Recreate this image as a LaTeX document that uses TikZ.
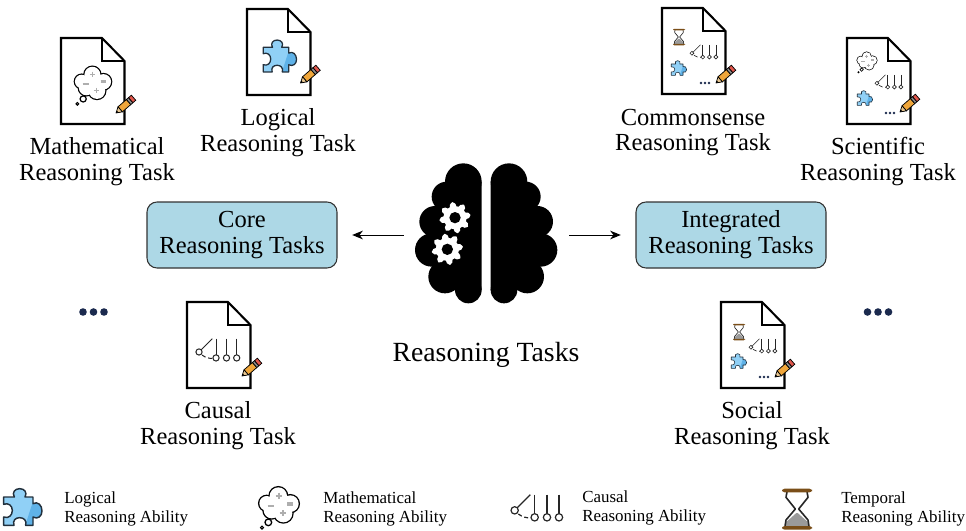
\documentclass[tikz,border=0pt]{standalone}
\usepackage{fontspec}
\setmainfont{Liberation Serif}
\usetikzlibrary{arrows.meta}
\definecolor{boxblue}{HTML}{ADD8E6}
\definecolor{puzlight}{HTML}{90D0F6}
\definecolor{puzdark}{HTML}{5FB2E8}
\definecolor{puzline}{HTML}{22303C}
\definecolor{navydot}{HTML}{1B2A4E}
\definecolor{glassbrown}{HTML}{7A4E18}
\definecolor{sandgray}{HTML}{9A9A9A}
\definecolor{penyellow}{HTML}{F0A63A}
\definecolor{penred}{HTML}{E2574C}
\definecolor{pengray}{HTML}{8C8C8C}
\definecolor{penwood}{HTML}{E8C690}
\tikzset{
  tasklabel/.style={align=center,inner sep=0pt,font=\fontsize{18.4}{19.4}\selectfont},
  biglabel/.style={inner sep=0pt,font=\fontsize{20.8}{24}\selectfont},
  legendlabel/.style={align=left,anchor=west,inner sep=0pt,font=\fontsize{12.7}{14.3}\selectfont},
  groupbox/.style={draw=black!80,line width=0.8pt,fill=boxblue,rounded corners=7.5pt,align=center,
    minimum width=142.5pt,minimum height=49.5pt,inner sep=0pt,font=\fontsize{18.4}{19.4}\selectfont},
  flowarrow/.style={-{Stealth[length=8pt,width=6.5pt,inset=2.5pt]},line width=0.75pt,shorten >=11pt},
  hiddenbrain/.style={minimum width=123.75pt,minimum height=105pt,inner sep=0pt}
}
% x y scale : puzzle, 1 = 38 px
\newcommand{\puzzleicon}[3]{%
\begin{scope}[shift={(#1,#2)},scale=#3/3]
  \def\puzpath{(-58,55) -- (-58,30) .. controls (-42,36) and (-32,24) .. (-32,10) .. controls (-32,-4) and (-44,-14) .. (-58,-8) -- (-58,-30) -- (-26,-30) .. controls (-34,-44) and (-24,-55) .. (-10,-55) .. controls (4,-55) and (14,-44) .. (6,-30) -- (30,-30) -- (30,-10) .. controls (44,-18) and (57,-6) .. (57,12) .. controls (57,28) and (44,38) .. (30,30) -- (30,55) -- (8,55) .. controls (12,40) and (2,32) .. (-10,32) .. controls (-22,32) and (-32,40) .. (-27,55) -- cycle}
  \fill[puzlight] \puzpath;
  \begin{scope}
    \clip \puzpath;
    \fill[puzdark] (36,-35) -- (70,-35) -- (70,60) -- (5,60) -- cycle;
  \end{scope}
  \draw[puzline,line width=#3*1.1pt,line join=round] \puzpath;
\end{scope}}
% cloud, 1 = 40 px
\newcommand{\cloudicon}[3]{%
\begin{scope}[shift={(#1,#2)},scale=#3/3]
  \foreach \cx/\cy/\cr in {-2/-27/26,34/-4/25,13/25/27,-22/16/24,-37/-5/22}
    \draw[black,fill=white,line width=#3*2pt] (\cx,\cy) circle[radius=\cr];
  \foreach \cx/\cy/\cr in {-2/-27/26,34/-4/25,13/25/27,-22/16/24,-37/-5/22,0/0/28}
    \fill[white] (\cx,\cy) circle[radius=\cr];
  \draw[sandgray!80,line width=#3*1.3pt] (-10,-28)--(8,-28) (-1,-37)--(-1,-19) (2,25)--(20,25) (11,16)--(11,34) (-34,3)--(-14,3) (25,-7)--(42,-7) (25,-1)--(42,-1);
  \draw[black,fill=white,line width=#3*1pt] (-32,52) circle[radius=10];
  \draw[black,fill=white,line width=#3*0.8pt] (-51,68) circle[radius=4.5];
\end{scope}}
% cradle, 1 = 53 px
\newcommand{\cradleicon}[3]{%
\begin{scope}[shift={(#1,#2)},scale=#3/3]
  \foreach \sx in {-7,30,66} {
    \draw[black!85,line width=#3*0.9pt] (\sx,-40) -- (\sx,17);
    \draw[black!85,fill=white,line width=#3*0.9pt] (\sx,28) circle[radius=11];
  }
  \draw[black!85,line width=#3*0.9pt] (-20,-40) -- (-60,-0);
  \draw[black!85,fill=white,line width=#3*0.9pt] (-67,7) circle[radius=11];
  \draw[black!85,densely dashed,line width=#3*0.9pt] (-56,18) .. controls (-44,27) and (-32,30) .. (-18,30);
\end{scope}}
% hourglass, 1 = 42 px high
\newcommand{\glassicon}[3]{%
\begin{scope}[shift={(#1,#2)},scale=#3/3]
  \fill[sandgray] (-2,12) -- (-22,30) -- (-34,40) -- (-36,52) -- (36,52) -- (34,40) -- (22,30) -- (2,12) -- cycle;
  \draw[black!85,line width=#3*1.2pt,line join=round] (-30,-52) -- (-33,-35) -- (-5,0) -- (-33,33) -- (-36,52) (30,-52) -- (33,-35) -- (5,0) -- (33,33) -- (36,52);
  \fill[glassbrown,rounded corners=#3*2pt] (-45,-61) rectangle (45,-50);
  \fill[glassbrown,rounded corners=#3*2pt] (-45,51) rectangle (45,62);
\end{scope}}
\newcommand{\moredots}[3]{%
\foreach \dd in {-1,0,1}
  \fill[navydot] ({#1+\dd*#3*10.5},#2) circle[radius=#3*3.8];}
% tip x y
\newcommand{\pencilicon}[2]{%
\begin{scope}[shift={(#1,#2)},rotate=41,scale=0.93]
  \draw[black,fill=penyellow,line width=0.55pt] (6,-3.6) -- (18,-3.6) -- (18,3.6) -- (6,3.6) -- cycle;
  \draw[black,fill=penwood,line width=0.55pt,line join=round] (0,0) -- (6,-3.6) -- (6,3.6) -- cycle;
  \fill[black] (0,0) -- (2.4,-1.4) -- (2.4,1.4) -- cycle;
  \draw[black,fill=pengray,line width=0.55pt] (18,-3.6) rectangle (21,3.6);
  \draw[black,fill=penred,line width=0.55pt] (21,-3.6) rectangle (25,3.6);
\end{scope}}
\newcommand{\docicon}[2]{%
\begin{scope}[shift={(#1,#2)}]
  \draw[black,fill=white,line width=1.55pt,line join=miter] (0,0) -- (41,0) -- (63.5,23) -- (63.5,86) -- (0,86) -- cycle;
  \draw[black,line width=1.55pt,line join=miter] (41,0) -- (41,23) -- (63.5,23);
\end{scope}}
\newcommand{\gearicon}[2]{%
\begin{scope}[shift={(#1,#2)}]
  \fill[white] (0,0) circle[radius=35];
  \foreach \ga in {10,55,100,145,190,235,280,325}
    \fill[white,rotate=\ga,rounded corners=1.5pt] (-11,28) -- (-7,47) -- (7,47) -- (11,28) -- cycle;
  \fill[black] (0,0) circle[radius=17];
\end{scope}}
\newcommand{\halfbrain}{%
  \fill[black] (190,95) -- (245,95) -- (245,420) -- (205,420) -- (135,380) -- (95,300) -- (105,215) -- (140,140) -- cycle;
  \foreach \cx/\cy/\cr in {190/95/55,140/140/45,105/215/47,95/300/50,135/380/50,205/420/40}
    \fill[black] (\cx,\cy) circle[radius=\cr];}
\begin{document}
\begin{tikzpicture}[x=0.75pt,y=-0.75pt]
\useasboundingbox (0,0) rectangle (966,531);
% brain
\begin{scope}[shift={(400,150)},scale=1/3]
  \halfbrain
  \begin{scope}[shift={(517,0)},xscale=-1]
    \halfbrain
  \end{scope}
  \gearicon{165}{203}
  \gearicon{142}{298}
\end{scope}
\node[hiddenbrain] (brain) at (486.5,235) {};
\node[groupbox] (core) at (242,235) {Core\\Reasoning Tasks};
\node[groupbox] (integrated) at (731,235) {Integrated\\Reasoning Tasks};
\draw[flowarrow] (brain) -- (core);
\draw[flowarrow] (brain) -- (integrated);
\node[biglabel] (tasks) at (486,355) {Reasoning Tasks};
% documents
\docicon{61}{38}
\cloudicon{93}{83}{0.92}
\pencilicon{116}{113}
\docicon{247}{9}
\puzzleicon{280}{56}{0.87}
\pencilicon{300.5}{83}
\docicon{662}{8}
\glassicon{679}{37}{0.4}
\cradleicon{704}{52}{0.54}
\puzzleicon{679}{68}{0.4}
\moredots{705}{83}{0.38}
\pencilicon{716}{83}
\docicon{847}{38}
\cloudicon{867}{61}{0.5}
\cradleicon{889}{82}{0.54}
\puzzleicon{865}{98}{0.4}
\moredots{890}{113}{0.38}
\pencilicon{900}{112}
\docicon{187}{302}
\cradleicon{218}{350}{0.85}
\pencilicon{242}{376}
\docicon{721}{302}
\glassicon{739}{332}{0.4}
\cradleicon{763}{346}{0.54}
\puzzleicon{739}{361}{0.4}
\moredots{764}{377}{0.38}
\pencilicon{775}{377}
% task labels
\node[tasklabel] (math) at (97,161.5) {Mathematical\\Reasoning Task};
\node[tasklabel] (logical) at (278,132.5) {Logical\\Reasoning Task};
\node[tasklabel] (common) at (693,132.5) {Commonsense\\Reasoning Task};
\node[tasklabel] (science) at (878,161.5) {Scientific\\Reasoning Task};
\node[tasklabel] (causal) at (218,425.5) {Causal\\Reasoning Task};
\node[tasklabel] (social) at (752,425.5) {Social\\Reasoning Task};
\moredots{93.5}{312}{1}
\moredots{878}{312}{1}
% legend
\puzzleicon{23}{507}{1}
\cloudicon{279}{505}{1}
\cradleicon{537}{508}{1}
\glassicon{797}{509}{1}
\node[legendlabel] (legA) at (64,509) {Logical\\Reasoning Ability};
\node[legendlabel] (legB) at (323,509) {Mathematical\\Reasoning Ability};
\node[legendlabel] (legC) at (582,508) {Causal\\Reasoning Ability};
\node[legendlabel] (legD) at (841,509) {Temporal\\Reasoning Ability};
\end{tikzpicture}
\end{document}
